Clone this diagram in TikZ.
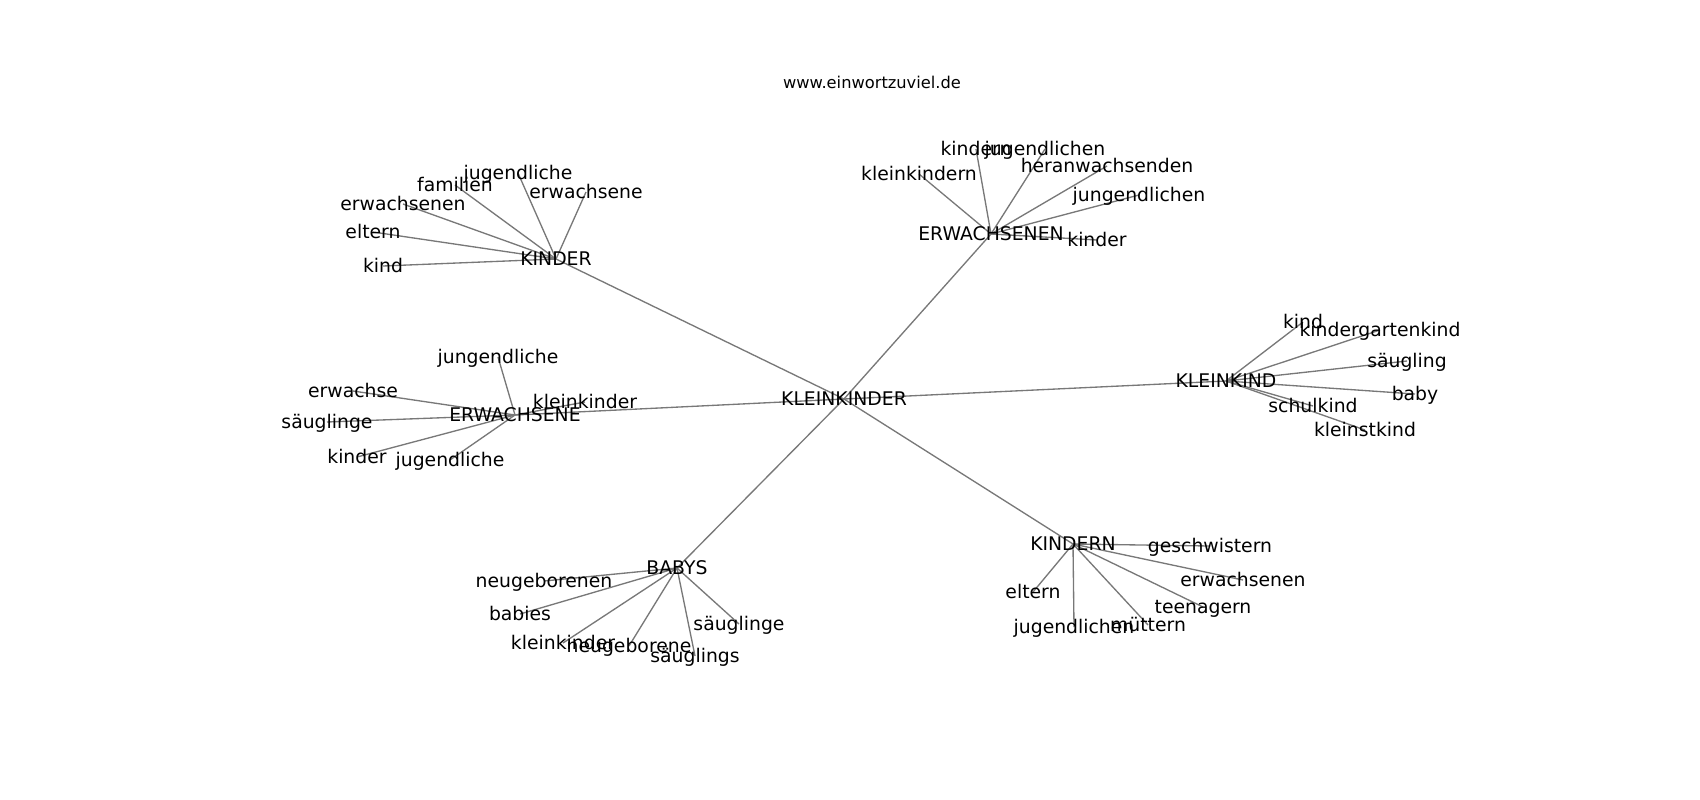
\documentclass[tikz,border=0pt]{standalone}
\usepackage{fontspec}
\setmainfont{DejaVu Sans}
\usetikzlibrary{backgrounds}

\tikzset{every picture/.style={line width=0.75pt}}
\tikzset{word/.style={anchor=center,inner sep=0pt,text height=0.95em,text depth=0pt,color={rgb, 255:red, 0; green, 0; blue, 0 },font=\fontsize{14.1}{17}\selectfont},
         link/.style={draw={rgb, 255:red, 120; green, 120; blue, 120 },line width=1pt}}

\begin{document}
\begin{tikzpicture}[x=0.75pt,y=0.75pt,yscale=-1,xscale=1]
        \useasboundingbox (0,0) rectangle (1700,800);

        % Text Node
        \draw (872,82) node [word,font=\fontsize{12.2}{15}\selectfont] (title) {www.einwortzuviel.de};
        % Text Node
        \draw (844,399) node [word] (kleinkinder) {KLEINKINDER};

        % Text Node
        \draw (556,259) node [word] (kinder) {KINDER};
        \draw (383,266) node [word] (kinder-kind) {kind};
        \draw (373,232) node [word] (kinder-eltern) {eltern};
        \draw (403,204) node [word] (kinder-erwachsenen) {erwachsenen};
        \draw (455,185) node [word] (kinder-familien) {familien};
        \draw (518,173) node [word] (kinder-jugendliche) {jugendliche};
        \draw (586,192) node [word] (kinder-erwachsene) {erwachsene};

        % Text Node
        \draw (991,234) node [word] (erwachsenen) {ERWACHSENEN};
        \draw (919,174) node [word] (erwachsenen-kleinkindern) {kleinkindern};
        \draw (976,149) node [word] (erwachsenen-kindern) {kindern};
        \draw (1045,149) node [word] (erwachsenen-jugendlichen) {jugendlichen};
        \draw (1107,166) node [word] (erwachsenen-heranwachsenden) {heranwachsenden};
        \draw (1139,195) node [word] (erwachsenen-jungendlichen) {jungendlichen};
        \draw (1097,240) node [word] (erwachsenen-kinder) {kinder};

        % Text Node
        \draw (1226,381) node [word] (kleinkind) {KLEINKIND};
        \draw (1303,322) node [word] (kleinkind-kind) {kind};
        \draw (1380,330) node [word] (kleinkind-kindergartenkind) {kindergartenkind};
        \draw (1407,361) node [word] (kleinkind-saeugling) {säugling};
        \draw (1415,394) node [word] (kleinkind-baby) {baby};
        \draw (1313,406) node [word] (kleinkind-schulkind) {schulkind};
        \draw (1365,430) node [word] (kleinkind-kleinstkind) {kleinstkind};

        % Text Node
        \draw (515,415) node [word] (erwachsene) {ERWACHSENE};
        \draw (498,357) node [word] (erwachsene-jungendliche) {jungendliche};
        \draw (353,391) node [word] (erwachsene-erwachse) {erwachse};
        \draw (327,422) node [word] (erwachsene-saeuglinge) {säuglinge};
        \draw (357,457) node [word] (erwachsene-kinder) {kinder};
        \draw (450,460) node [word] (erwachsene-jugendliche) {jugendliche};
        \draw (585,402) node [word] (erwachsene-kleinkinder) {kleinkinder};

        % Text Node
        \draw (677,568) node [word] (babys) {BABYS};
        \draw (544,581) node [word] (babys-neugeborenen) {neugeborenen};
        \draw (520,614) node [word] (babys-babies) {babies};
        \draw (563,643) node [word] (babys-kleinkinder) {kleinkinder};
        \draw (629,646) node [word] (babys-neugeborene) {neugeborene};
        \draw (695,656) node [word] (babys-saeuglings) {säuglings};
        \draw (739,624) node [word] (babys-saeuglinge) {säuglinge};

        % Text Node
        \draw (1073,544) node [word] (kindern) {KINDERN};
        \draw (1210,546) node [word] (kindern-geschwistern) {geschwistern};
        \draw (1243,580) node [word] (kindern-erwachsenen) {erwachsenen};
        \draw (1203,607) node [word] (kindern-teenagern) {teenagern};
        \draw (1148,625) node [word] (kindern-muettern) {müttern};
        \draw (1074,627) node [word] (kindern-jugendlichen) {jugendlichen};
        \draw (1033,592) node [word] (kindern-eltern) {eltern};

        \begin{pgfonlayer}{background}
        %Straight Lines
        \draw [link] (kleinkinder.center) -- (kinder.center) ;
        \draw [link] (kleinkinder.center) -- (erwachsenen.center) ;
        \draw [link] (kleinkinder.center) -- (kleinkind.center) ;
        \draw [link] (kleinkinder.center) -- (erwachsene.center) ;
        \draw [link] (kleinkinder.center) -- (babys.center) ;
        \draw [link] (kleinkinder.center) -- (kindern.center) ;
        %Straight Lines
        \draw [link] (kinder.center) -- (kinder-kind.center) ;
        \draw [link] (kinder.center) -- (kinder-eltern.center) ;
        \draw [link] (kinder.center) -- (kinder-erwachsenen.center) ;
        \draw [link] (kinder.center) -- (kinder-familien.center) ;
        \draw [link] (kinder.center) -- (kinder-jugendliche.center) ;
        \draw [link] (kinder.center) -- (kinder-erwachsene.center) ;
        %Straight Lines
        \draw [link] (erwachsenen.center) -- (erwachsenen-kleinkindern.center) ;
        \draw [link] (erwachsenen.center) -- (erwachsenen-kindern.center) ;
        \draw [link] (erwachsenen.center) -- (erwachsenen-jugendlichen.center) ;
        \draw [link] (erwachsenen.center) -- (erwachsenen-heranwachsenden.center) ;
        \draw [link] (erwachsenen.center) -- (erwachsenen-jungendlichen.center) ;
        \draw [link] (erwachsenen.center) -- (erwachsenen-kinder.center) ;
        %Straight Lines
        \draw [link] (kleinkind.center) -- (kleinkind-kind.center) ;
        \draw [link] (kleinkind.center) -- (kleinkind-kindergartenkind.center) ;
        \draw [link] (kleinkind.center) -- (kleinkind-saeugling.center) ;
        \draw [link] (kleinkind.center) -- (kleinkind-baby.center) ;
        \draw [link] (kleinkind.center) -- (kleinkind-schulkind.center) ;
        \draw [link] (kleinkind.center) -- (kleinkind-kleinstkind.center) ;
        %Straight Lines
        \draw [link] (erwachsene.center) -- (erwachsene-jungendliche.center) ;
        \draw [link] (erwachsene.center) -- (erwachsene-erwachse.center) ;
        \draw [link] (erwachsene.center) -- (erwachsene-saeuglinge.center) ;
        \draw [link] (erwachsene.center) -- (erwachsene-kinder.center) ;
        \draw [link] (erwachsene.center) -- (erwachsene-jugendliche.center) ;
        \draw [link] (erwachsene.center) -- (erwachsene-kleinkinder.center) ;
        %Straight Lines
        \draw [link] (babys.center) -- (babys-neugeborenen.center) ;
        \draw [link] (babys.center) -- (babys-babies.center) ;
        \draw [link] (babys.center) -- (babys-kleinkinder.center) ;
        \draw [link] (babys.center) -- (babys-neugeborene.center) ;
        \draw [link] (babys.center) -- (babys-saeuglings.center) ;
        \draw [link] (babys.center) -- (babys-saeuglinge.center) ;
        %Straight Lines
        \draw [link] (kindern.center) -- (kindern-geschwistern.center) ;
        \draw [link] (kindern.center) -- (kindern-erwachsenen.center) ;
        \draw [link] (kindern.center) -- (kindern-teenagern.center) ;
        \draw [link] (kindern.center) -- (kindern-muettern.center) ;
        \draw [link] (kindern.center) -- (kindern-jugendlichen.center) ;
        \draw [link] (kindern.center) -- (kindern-eltern.center) ;
        \end{pgfonlayer}
\end{tikzpicture}
\end{document}
